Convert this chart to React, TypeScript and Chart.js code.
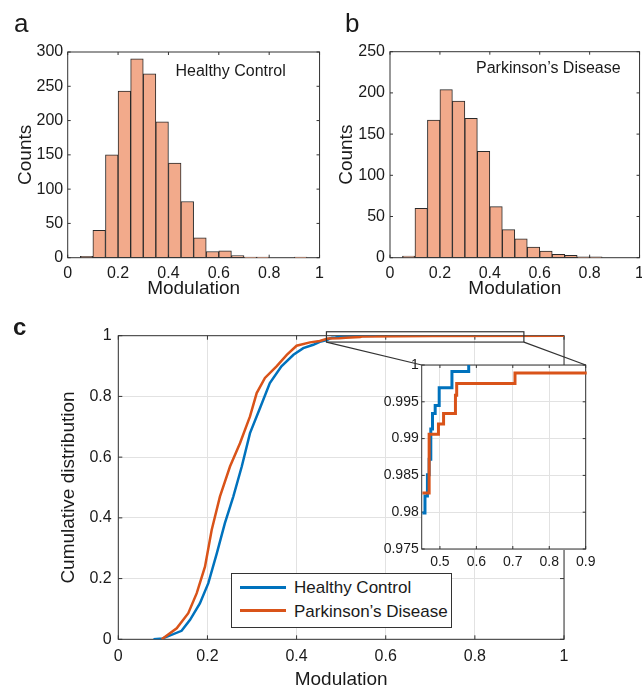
import React, { useEffect, useRef } from 'react';
import { Chart, registerables } from 'chart.js';

Chart.register(...registerables);

const FONT = "'Liberation Sans', Arial, Helvetica, sans-serif";
const TEXT = '#1a1a1a';
const AXIS = '#333333';
const GRID = '#e2e2e2';
const BAR_FILL = '#F2AA8B';
const BAR_EDGE = '#2a2a2a';
const BLUE = '#0072BD';
const ORANGE = '#D95319';

// ---- Histogram data (bin centres, width 0.05) ----
const binCenters = [0.075, 0.125, 0.175, 0.225, 0.275, 0.325, 0.375, 0.425, 0.475, 0.525, 0.575, 0.625, 0.675, 0.725, 0.775, 0.825, 0.875, 0.925];
const healthyCounts = [2, 40, 150, 243, 290, 268, 198, 138, 82, 29, 9, 10, 3, 1, 1, 0, 0, 1];
const parkinsonCounts = [2, 60, 167, 204, 190, 169, 129, 62, 34, 23, 13, 8, 4, 3, 1, 1, 0, 0];

const histXTicks = [0, 0.2, 0.4, 0.6, 0.8, 1];
const healthyYTicks = [0, 50, 100, 150, 200, 250, 300];
const parkinsonYTicks = [0, 50, 100, 150, 200, 250];

// ---- Cumulative distributions ----
const healthyCdfX = [0.079, 0.1, 0.142, 0.161, 0.183, 0.202, 0.221, 0.239, 0.258, 0.277, 0.2955, 0.318, 0.34, 0.366, 0.393, 0.415, 0.4375];
const healthyCdfY = [0, 0.003, 0.028, 0.064, 0.118, 0.185, 0.283, 0.382, 0.47, 0.569, 0.679, 0.762, 0.844, 0.899, 0.937, 0.959, 0.97];
const healthyTailX = [0.452, 0.459, 0.4657, 0.4704, 0.475, 0.4796, 0.487, 0.498, 0.533, 0.579];
const healthyTailY = [0.9799, 0.9822, 0.9851, 0.9872, 0.9913, 0.9934, 0.9945, 0.9969, 0.9991, 1.0];

const parkinsonCdfX = [0.0974, 0.131, 0.157, 0.176, 0.1945, 0.2095, 0.228, 0.2506, 0.273, 0.2955, 0.3105, 0.329, 0.355, 0.378, 0.4, 0.43];
const parkinsonCdfY = [0, 0.036, 0.086, 0.152, 0.239, 0.36, 0.47, 0.569, 0.646, 0.734, 0.811, 0.861, 0.899, 0.937, 0.967, 0.978];
const parkinsonTailX = [0.452, 0.4704, 0.496, 0.51, 0.5426, 0.546, 0.706, 1.0];
const parkinsonTailY = [0.9826, 0.9906, 0.992, 0.9934, 0.9959, 0.9975, 0.9989, 1.0];

const cdfXTicks = [0, 0.2, 0.4, 0.6, 0.8, 1];
const cdfYTicks = [0, 0.2, 0.4, 0.6, 0.8, 1];
const insetXTicks = [0.5, 0.6, 0.7, 0.8, 0.9];
const insetYTicks = [0.975, 0.98, 0.985, 0.99, 0.995, 1];
const zoomWindowX = [0.467, 0.91];
const zoomWindowY = [0.979, 1.013];

const seriesNames = ['Healthy Control', 'Parkinson\u2019s Disease'];

const pts = (xs: number[], ys: number[]) => xs.map((x, i) => ({ x, y: ys[i] }));

function boxPlugin(id: string, tickLen: number) {
  return {
    id,
    beforeDatasetsDraw(chart: any) {
      const { ctx, chartArea: a, scales } = chart;
      ctx.save();
      ctx.strokeStyle = AXIS;
      ctx.lineWidth = 1;
      ctx.beginPath();
      scales.x.ticks.forEach((t: any) => {
        const p = scales.x.getPixelForValue(t.value);
        ctx.moveTo(p, a.bottom);
        ctx.lineTo(p, a.bottom - tickLen);
        ctx.moveTo(p, a.top);
        ctx.lineTo(p, a.top + tickLen);
      });
      scales.y.ticks.forEach((t: any) => {
        const p = scales.y.getPixelForValue(t.value);
        ctx.moveTo(a.left, p);
        ctx.lineTo(a.left + tickLen, p);
        ctx.moveTo(a.right, p);
        ctx.lineTo(a.right - tickLen, p);
      });
      ctx.stroke();
      ctx.strokeRect(a.left, a.top, a.right - a.left, a.bottom - a.top);
      ctx.restore();
    },
  };
}

function fixedTicks(values: number[]) {
  return (scale: any) => {
    scale.ticks = values.map((v) => ({ value: v }));
  };
}

function tickOpts(size: number, padding: number) {
  return {
    color: TEXT,
    font: { family: FONT, size },
    padding,
    autoSkip: false,
    maxRotation: 0,
    minRotation: 0,
    callback: (v: any) => String(v),
  };
}

function histConfig(counts: number[], yMax: number, yTicks: number[], area: any, canvasW: number, canvasH: number, yTitlePad: number, yTickPad: number) {
  return {
    type: 'bar',
    data: {
      datasets: [
        {
          data: pts(binCenters, counts),
          backgroundColor: BAR_FILL,
          borderColor: BAR_EDGE,
          borderWidth: 1,
          borderSkipped: false,
          barPercentage: 1,
          categoryPercentage: 1,
        },
      ],
    },
    options: {
      responsive: false,
      animation: false,
      devicePixelRatio: 1,
      layout: { padding: { left: 0, top: area.top, right: canvasW - area.right, bottom: 0 } },
      plugins: { legend: { display: false }, tooltip: { enabled: false } },
      scales: {
        x: {
          type: 'linear',
          min: 0,
          max: 1,
          offset: false,
          grid: { display: false, drawTicks: false, offset: false },
          border: { display: false },
          afterBuildTicks: fixedTicks(histXTicks),
          afterFit: (s: any) => { s.height = canvasH - area.bottom; },
          ticks: tickOpts(16, 6),
          title: { display: true, text: 'Modulation', color: TEXT, font: { family: FONT, size: 19 }, padding: { top: 0, bottom: 4.6 } },
        },
        y: {
          type: 'linear',
          min: 0,
          max: yMax,
          grid: { display: false, drawTicks: false },
          border: { display: false },
          afterBuildTicks: fixedTicks(yTicks),
          afterFit: (s: any) => { s.width = area.left; },
          ticks: tickOpts(16, yTickPad),
          title: { display: true, text: 'Counts', color: TEXT, font: { family: FONT, size: 19 }, padding: { top: yTitlePad, bottom: 0 } },
        },
      },
    },
    plugins: [boxPlugin('histBox', 3)],
  } as any;
}

export default function App() {
  const aRef = useRef<HTMLCanvasElement>(null);
  const bRef = useRef<HTMLCanvasElement>(null);
  const cRef = useRef<HTMLCanvasElement>(null);
  const dRef = useRef<HTMLCanvasElement>(null);

  useEffect(() => {
    const charts: any[] = [];
    // Panel a
    charts.push(new Chart(aRef.current as any, histConfig(healthyCounts, 300, healthyYTicks, { left: 67.7, top: 52, right: 320.7, bottom: 257.7 }, 330, 305, 14.1, 4.5)));
    // Panel b
    charts.push(new Chart(bRef.current as any, histConfig(parkinsonCounts, 250, parkinsonYTicks, { left: 70, top: 51.7, right: 323, bottom: 257.7 }, 330, 305, 15.3, 5)));

    // Panel c (main)
    const CW = 642;
    const CH = 400;
    const mainArea = { left: 118.3, top: 30.7, right: 564, bottom: 334.3 };
    const mainChart: any = new Chart(cRef.current as any, {
      type: 'line',
      data: {
        datasets: [
          {
            label: seriesNames[0],
            data: pts([...healthyCdfX, ...healthyTailX], [...healthyCdfY, ...healthyTailY]),
            borderColor: BLUE,
            backgroundColor: BLUE,
            borderWidth: 2.5,
            pointRadius: 0,
            tension: 0,
            fill: false,
            order: 1,
          },
          {
            label: seriesNames[1],
            data: pts([...parkinsonCdfX, ...parkinsonTailX], [...parkinsonCdfY, ...parkinsonTailY]),
            borderColor: ORANGE,
            backgroundColor: ORANGE,
            borderWidth: 2.5,
            pointRadius: 0,
            tension: 0,
            fill: false,
            order: 0,
          },
        ],
      },
      options: {
        responsive: false,
        animation: false,
        devicePixelRatio: 1,
        layout: { padding: { left: 0, top: mainArea.top, right: CW - mainArea.right, bottom: 0 } },
        plugins: { legend: { display: false }, tooltip: { enabled: false } },
        scales: {
          x: {
            type: 'linear',
            min: 0,
            max: 1,
            grid: { color: GRID, lineWidth: 1, drawTicks: false },
            border: { display: false },
            afterBuildTicks: fixedTicks(cdfXTicks),
            afterFit: (s: any) => { s.height = CH - mainArea.bottom; },
            ticks: tickOpts(16, 7.8),
            title: { display: true, text: 'Modulation', color: TEXT, font: { family: FONT, size: 19 }, padding: { top: 0, bottom: 13.6 } },
          },
          y: {
            type: 'linear',
            min: 0,
            max: 1,
            grid: { color: GRID, lineWidth: 1, drawTicks: false },
            border: { display: false },
            afterBuildTicks: fixedTicks(cdfYTicks),
            afterFit: (s: any) => { s.width = mainArea.left; },
            ticks: tickOpts(16, 6.6),
            title: { display: true, text: 'Cumulative distribution', color: TEXT, font: { family: FONT, size: 19 }, padding: { top: 57.6, bottom: 0 } },
          },
        },
      },
      plugins: [boxPlugin('mainBox', 4)],
    } as any);
    charts.push(mainChart);

    // Inset (same canvas geometry as main so coordinates coincide)
    const insetArea = { left: 421.7, top: 60, right: 585.7, bottom: 244 };
    const insetDecor = {
      id: 'insetDecor',
      beforeDraw(chart: any) {
        const { ctx, chartArea: a } = chart;
        ctx.save();
        ctx.fillStyle = '#ffffff';
        ctx.fillRect(a.left, a.top, a.right - a.left, a.bottom - a.top);
        ctx.restore();
      },
      afterDraw(chart: any) {
        const { ctx, chartArea: a } = chart;
        const xs = mainChart.scales.x;
        const ys = mainChart.scales.y;
        const x0 = xs.getPixelForValue(zoomWindowX[0]);
        const x1 = xs.getPixelForValue(zoomWindowX[1]);
        const y0 = ys.getPixelForValue(zoomWindowY[0]);
        const y1 = ys.getPixelForValue(zoomWindowY[1]);
        ctx.save();
        ctx.strokeStyle = AXIS;
        ctx.lineWidth = 1.2;
        ctx.strokeRect(x0, y1, x1 - x0, y0 - y1);
        ctx.beginPath();
        ctx.moveTo(x0, y0);
        ctx.lineTo(a.left, a.top);
        ctx.moveTo(x1, y0);
        ctx.lineTo(a.right, a.top);
        ctx.stroke();
        ctx.restore();
      },
    };
    charts.push(new Chart(dRef.current as any, {
      type: 'line',
      data: {
        datasets: [
          {
            label: seriesNames[0],
            data: pts(healthyTailX, healthyTailY),
            borderColor: BLUE,
            borderWidth: 3,
            pointRadius: 0,
            stepped: 'before',
            fill: false,
            order: 1,
            clip: 1,
          },
          {
            label: seriesNames[1],
            data: pts(parkinsonTailX, parkinsonTailY),
            borderColor: ORANGE,
            borderWidth: 3,
            pointRadius: 0,
            stepped: 'before',
            fill: false,
            order: 0,
            clip: 1,
          },
        ],
      },
      options: {
        responsive: false,
        animation: false,
        devicePixelRatio: 1,
        layout: { padding: { left: 0, top: insetArea.top, right: CW - insetArea.right, bottom: 0 } },
        plugins: { legend: { display: false }, tooltip: { enabled: false } },
        scales: {
          x: {
            type: 'linear',
            min: 0.45,
            max: 0.9,
            grid: { color: GRID, lineWidth: 1, drawTicks: false },
            border: { display: false },
            afterBuildTicks: fixedTicks(insetXTicks),
            afterFit: (s: any) => { s.height = CH - insetArea.bottom; },
            ticks: tickOpts(14, 4.3),
          },
          y: {
            type: 'linear',
            min: 0.975,
            max: 1,
            grid: { color: GRID, lineWidth: 1, drawTicks: false },
            border: { display: false },
            afterBuildTicks: fixedTicks(insetYTicks),
            afterFit: (s: any) => { s.width = insetArea.left; },
            ticks: tickOpts(14, 3),
          },
        },
      },
      plugins: [insetDecor, boxPlugin('insetBox', 3)],
    } as any));

    return () => {
      charts.forEach((c) => c.destroy());
    };
  }, []);

  const abs = (s: any) => ({ position: 'absolute', ...s } as any);

  return (
    <div style={abs({ left: 0, top: 0, width: 642, height: 688, overflow: 'hidden', background: '#ffffff', fontFamily: FONT, color: TEXT })}>
      <canvas ref={aRef} width={330} height={305} style={abs({ left: 0, top: 0, width: 330, height: 305 })} />
      <canvas ref={bRef} width={330} height={305} style={abs({ left: 320, top: 0, width: 330, height: 305 })} />
      <canvas ref={cRef} width={642} height={400} style={abs({ left: 0, top: 305, width: 642, height: 400 })} />
      <canvas ref={dRef} width={642} height={400} style={abs({ left: 0, top: 305, width: 642, height: 400 })} />

      <div style={abs({ left: 14, top: 10, fontSize: 26, lineHeight: '26px' })}>a</div>
      <div style={abs({ left: 345, top: 10, fontSize: 26, lineHeight: '26px' })}>b</div>
      <div style={abs({ left: 13, top: 314.7, fontSize: 24, lineHeight: '24px', fontWeight: 'bold' })}>c</div>

      <div style={abs({ left: 175.5, top: 62.5, fontSize: 16, lineHeight: '16px', whiteSpace: 'nowrap' })}>{seriesNames[0]}</div>
      <div style={abs({ left: 476, top: 60, fontSize: 16, lineHeight: '16px', whiteSpace: 'nowrap' })}>{seriesNames[1]}</div>

      <div style={abs({ left: 231, top: 572.7, width: 221, height: 55.6, border: '1px solid #333', background: '#ffffff', boxSizing: 'border-box' })}>
        <div style={abs({ left: 8, top: 12.1, width: 46, height: 3, background: BLUE })} />
        <div style={abs({ left: 62, top: 5.3, fontSize: 17, lineHeight: '17px', whiteSpace: 'nowrap' })}>{seriesNames[0]}</div>
        <div style={abs({ left: 8, top: 35.8, width: 46, height: 3, background: ORANGE })} />
        <div style={abs({ left: 62, top: 29, fontSize: 17, lineHeight: '17px', whiteSpace: 'nowrap' })}>{seriesNames[1]}</div>
      </div>
    </div>
  );
}
